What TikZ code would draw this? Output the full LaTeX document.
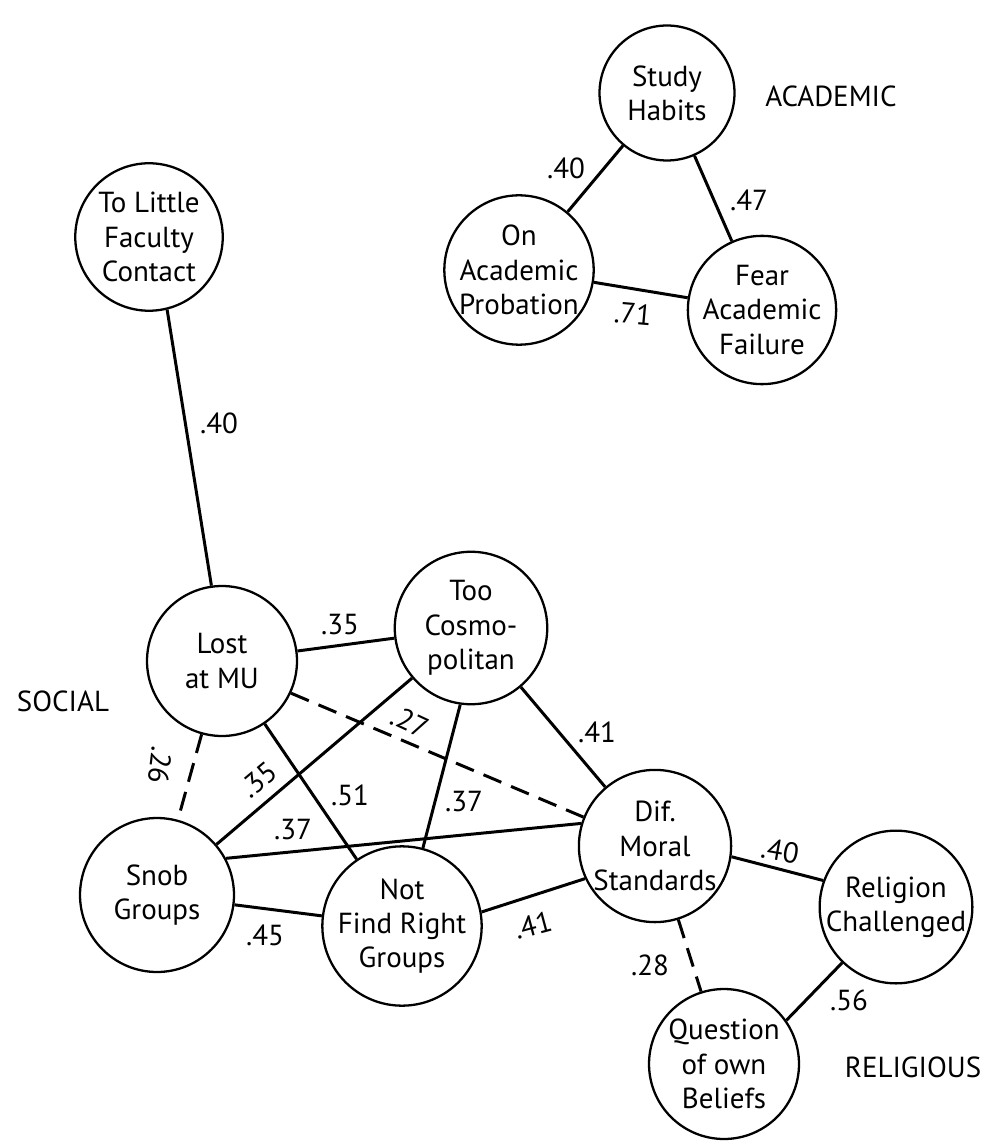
\documentclass[tikz,border=0pt]{standalone}
\usepackage{fontspec}
\setmainfont{PT Sans}
\begin{document}
\begin{tikzpicture}[x=0.02cm, y=-0.02cm, font=\fontsize{16.5}{19.5}\selectfont,
    factor/.style={circle, draw, line width=1.3pt, minimum size=#1cm, align=center, inner sep=0pt},
    factor/.default=3,
    link/.style={line width=1.7pt},
    weak/.style={line width=1.7pt, dash pattern=on 11pt off 6pt},
    wt/.style={inner sep=1pt}]
    \useasboundingbox (0,0) rectangle (1007,1141);

    \node[factor=2.7] (study) at (667,93) {Study\\Habits};
    \node[factor=2.8] (prob) at (519,270) {On\\Academic\\Probation};
    \node[factor=2.8] (fear) at (762,310) {Fear\\Academic\\Failure};
    \node[factor=2.95] (faculty) at (149,237) {To Little\\Faculty\\Contact};
    \node[factor] (lost) at (222,661) {Lost\\at MU};
    \node[factor=3.05] (cosmo) at (471,628) {Too\\Cosmo-\\politan};
    \node[factor=3.08] (snob) at (157,895) {Snob\\Groups};
    \node[factor=3.1] (notfind) at (402,926) {Not\\Find Right\\Groups};
    \node[factor] (dif) at (655,846) {Dif.\\Moral\\Standards};
    \node[factor=2.95] (relig) at (896,907) {Religion\\Challenged};
    \node[factor] (quest) at (724,1064) {Question\\of own\\Beliefs};

    \node (academic) at (831,96) {ACADEMIC};
    \node (social) at (63,701) {SOCIAL};
    \node (religious) at (913,1067) {RELIGIOUS};

    \draw[link] (study) -- (prob);
    \draw[link] (study) -- (fear);
    \draw[link] (prob) -- (fear);
    \draw[link] (faculty.-76) -- (lost.98);
    \draw[link] (lost) -- (cosmo);
    \draw[weak] (lost.-25) -- (dif.158);
    \draw[weak] (lost) -- (snob);
    \draw[link] (lost) -- (notfind);
    \draw[link] (snob) -- (cosmo);
    \draw[link] (snob.28) -- (dif.163);
    \draw[link] (snob) -- (notfind);
    \draw[link] (cosmo.-98) -- (notfind.75);
    \draw[link] (cosmo) -- (dif);
    \draw[link] (notfind.10) -- (dif.205);
    \draw[link] (dif.-8) -- (relig.160);
    \draw[weak] (dif) -- (quest);
    \draw[link] (quest.35) -- (relig.226);

    \node[wt] (w1) at (566,168) {.40};
    \node[wt] (w2) at (749,200) {.47};
    \node[wt, rotate=-5] (w3) at (633,314) {.71};
    \node[wt] (w4) at (219,423) {.40};
    \node[wt] (w5) at (340,625) {.35};
    \node[wt, rotate=-25] (w6) at (410,722) {.27};
    \node[wt, rotate=-97] (w7) at (160,765) {.26};
    \node[wt, rotate=40] (w8) at (259,780) {.35};
    \node[wt] (w9) at (350,795) {.51};
    \node[wt] (w10) at (464,802) {.37};
    \node[wt] (w11) at (293,830) {.37};
    \node[wt] (w12) at (265,935) {.45};
    \node[wt, rotate=15] (w13) at (533,925) {.41};
    \node[wt] (w14) at (597,732) {.41};
    \node[wt, rotate=-10] (w15) at (780,851) {.40};
    \node[wt] (w16) at (650,965) {.28};
    \node[wt] (w17) at (849,1000) {.56};
\end{tikzpicture}
\end{document}
